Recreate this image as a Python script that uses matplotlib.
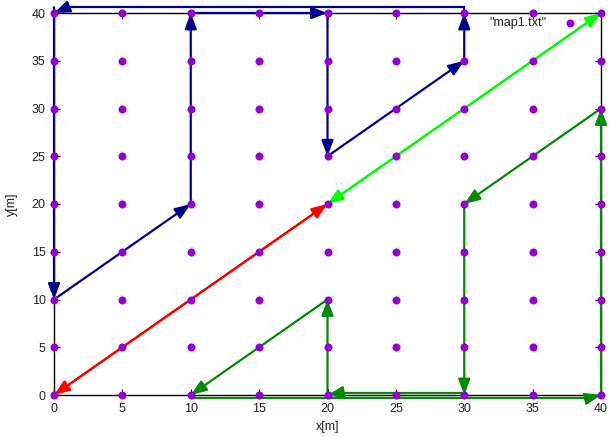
import matplotlib
matplotlib.use("Agg")
import matplotlib.pyplot as plt

plt.rcParams['font.family'] = ['Liberation Sans', 'DejaVu Sans']

# survey grid (metres)
grid_x = [0, 5, 10, 15, 20, 25, 30, 35, 40]
grid_y = [0, 5, 10, 15, 20, 25, 30, 35, 40]
tick_values = [0, 5, 10, 15, 20, 25, 30, 35, 40]

# robot routes: consecutive points are joined by arrows
blue_route = [(0, 40.6), (0, 10), (10, 20), (10, 40), (20, 40), (20, 25), (30, 35), (30, 40)]
blue_return_line = [(30, 40), (30, 40.6), (1, 40.6)]
blue_return_arrow = [(1, 40.6), (0, 40)]

red_route = [(20, 20), (0, 0)]
red_back = [(0, 0), (20, 20)]
lime_route = [(40, 40), (20, 20)]
lime_back = [(20, 20), (40, 40)]

green_route_a = [(40, 30), (30, 20), (30, 0)]
green_link_a_line = [(30, 0), (30, 0.25), (21, 0.25)]
green_link_a_arrow = [(21, 0.25), (20, 0)]
green_route_b = [(20, 0), (20, 10), (10, 0)]
green_link_b_line = [(10, 0), (10, -0.35), (39, -0.35)]
green_link_b_arrow = [(39, -0.35), (40, 0)]
green_route_c = [(40, 0), (40, 30)]

BLUE = '#00008b'
RED = '#ff0000'
LIME = '#00ff00'
GREEN = '#008a00'
PURPLE = '#9400d3'

fig = plt.figure(figsize=(6.11, 4.37), dpi=100)
ax = fig.add_axes([54 / 611, 1 - 395 / 437, 547 / 611, 382 / 437])
ax.set_xlim(0, 40)
ax.set_ylim(0, 40)


def arrows(route, color):
    for (x0, y0), (x1, y1) in zip(route[:-1], route[1:]):
        ax.annotate('', xy=(x1, y1), xytext=(x0, y0),
                    arrowprops=dict(arrowstyle='-|>,head_length=0.95,head_width=0.36',
                                    color=color, lw=1.6, shrinkA=0, shrinkB=0,
                                    mutation_scale=10),
                    annotation_clip=False, zorder=3)


def line(route, color):
    xs = [p[0] for p in route]
    ys = [p[1] for p in route]
    ax.plot(xs, ys, color=color, lw=1.6, clip_on=False, zorder=3,
            solid_joinstyle='miter')


arrows(blue_route, BLUE)
line(blue_return_line, BLUE)
arrows(blue_return_arrow, BLUE)

arrows(red_route, RED)
arrows(red_back, RED)
arrows(lime_route, LIME)
arrows(lime_back, LIME)

arrows(green_route_a, GREEN)
line(green_link_a_line, GREEN)
arrows(green_link_a_arrow, GREEN)
arrows(green_route_b, GREEN)
line(green_link_b_line, GREEN)
arrows(green_link_b_arrow, GREEN)
arrows(green_route_c, GREEN)

# grid points
px = [x for y in grid_y for x in grid_x]
py = [y for y in grid_y for x in grid_x]
ax.plot(px, py, 'o', color=PURPLE, markersize=5.8, markeredgewidth=0,
        clip_on=False, zorder=4)

# key
ax.text(0.901, 0.974, '"map1.txt"', transform=ax.transAxes, ha='right',
        va='center', fontsize=9, color='#222222')
ax.plot([0.9433], [0.974], 'o', color=PURPLE, markersize=5.8,
        markeredgewidth=0, transform=ax.transAxes, clip_on=False)

ax.set_xticks(tick_values)
ax.set_yticks(tick_values)
ax.tick_params(direction='in', length=4, width=0.8, top=True, right=True,
               labelsize=9, pad=6, labelcolor='#222222')
for s in ax.spines.values():
    s.set_linewidth(1.0)
    s.set_color('black')

ax.set_xlabel('x[m]', fontsize=9, labelpad=4, color='#222222')
ax.set_ylabel('y[m]', fontsize=9, labelpad=10, color='#222222')

fig.savefig('out.png', dpi=100)
